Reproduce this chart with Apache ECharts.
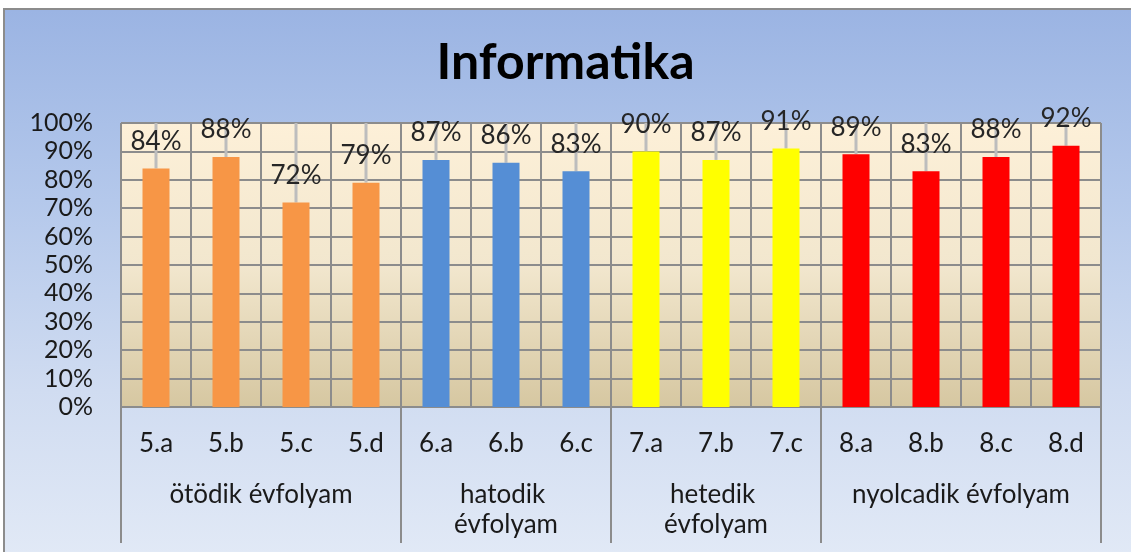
<!DOCTYPE html>
<html>
<head>
<meta charset="utf-8">
<title>Informatika</title>
<script src="https://cdn.jsdelivr.net/npm/echarts@6/dist/echarts.min.js"></script>
<style>
    html,body{margin:0;padding:0;background:#fff;overflow:hidden;}
    #frame{position:absolute;left:3px;top:8px;width:1128px;height:544px;border-left:2px solid #8c8c8c;border-top:2px solid #8c8c8c;
        background:linear-gradient(to bottom,#9bb4e3 0%,#b4c8eb 35%,#d0dcf1 70%,#e1e9f6 100%);}
    #chart{position:absolute;left:0;top:0;width:1131px;height:552px;}
</style>
</head>
<body>
<div id="frame"></div>
<div id="chart"></div>
<script>
"use strict";
/*adatok*/
let categories = ["5.a","5.b","5.c","5.d","6.a","6.b","6.c","7.a","7.b","7.c","8.a","8.b","8.c","8.d"];
let values = [0.84,0.88,0.72,0.79,0.87,0.86,0.83,0.90,0.87,0.91,0.89,0.83,0.88,0.92];
let groupNames = ["ötödik évfolyam","hatodik évfolyam","hetedik évfolyam","nyolcadik évfolyam"];
let groupStart = [0,4,7,10];
let groupEnd = [3,6,9,13];
let groupColors = ["#F79646","#558ED5","#FFFF00","#FF0000"];

let fontName = "Lato";

function groupOf(i){
    for(let g = 0; g < groupStart.length; g++){
        if(i >= groupStart[g] && i <= groupEnd[g]) return g;
    }
    return 0;
}
function pct(v){
    return Math.round(v * 100) + "%";
}

let chart = echarts.init(document.getElementById("chart"));
let option = {
    backgroundColor:"transparent",
    animation:false,
    title:{
        text:"Informatika",
        left:"center",
        top:33,
        textStyle:{
            fontFamily:fontName,
            fontSize:50,
            fontWeight:"bold",
            color:"#000"
        }
    },
    grid:{
        left:121,
        right:30,
        top:123,
        bottom:145,
        show:true,
        borderWidth:0,
        backgroundColor:new echarts.graphic.LinearGradient(0,0,0,1,[
            {offset:0,color:"#FDF0D8"},
            {offset:0.5,color:"#F2E7CE"},
            {offset:1,color:"#D6C7A1"}
        ])
    },
    xAxis:{
        type:"category",
        data:categories,
        axisLine:{
            show:true,
            lineStyle:{color:"#8c8c8c",width:2}
        },
        axisTick:{show:false},
        axisLabel:{
            interval:0,
            margin:24,
            fontFamily:fontName,
            fontSize:26,
            color:"#1a1a1a"
        },
        splitLine:{
            show:true,
            interval:0,
            lineStyle:{color:"#8c8c8c",width:2}
        }
    },
    yAxis:{
        type:"value",
        min:0,
        max:1,
        interval:0.1,
        axisLine:{show:false},
        axisTick:{show:false},
        axisLabel:{
            margin:28,
            fontFamily:fontName,
            fontSize:25,
            color:"#1a1a1a",
            formatter:pct
        },
        splitLine:{
            lineStyle:{color:"#8c8c8c",width:2}
        }
    },
    series:[
        /*drop lines above the bars*/
        {
            type:"custom",
            z:1,
            silent:true,
            data:categories.map((c,i) => [i,values[i]]),
            encode:{x:0,y:1},
            renderItem(params,api){
                let top = api.coord([api.value(0),1]);
                let bottom = api.coord([api.value(0),api.value(1)]);
                return {
                    type:"line",
                    shape:{x1:top[0],y1:top[1],x2:bottom[0],y2:bottom[1]},
                    style:{stroke:"#bdbdbd",lineWidth:3}
                };
            }
        },
        {
            type:"bar",
            z:3,
            barWidth:27,
            data:values,
            itemStyle:{
                color(params){
                    return groupColors[groupOf(params.dataIndex)];
                }
            },
            label:{
                show:true,
                position:"top",
                distance:14,
                fontFamily:fontName,
                fontSize:26,
                color:"#262626",
                formatter(params){
                    return pct(params.value);
                }
            }
        },
        /*évfolyam labels and separators*/
        {
            type:"custom",
            silent:true,
            clip:false,
            data:groupNames.map((n,g) => [groupStart[g],groupEnd[g],0]),
            encode:{x:[0,1],y:2},
            renderItem(params,api){
                let band = api.size([1,0])[0];
                let p0 = api.coord([api.value(0),0]);
                let p1 = api.coord([api.value(1),0]);
                let left = p0[0] - band / 2;
                let right = p1[0] + band / 2;
                let base = p0[1];
                return {
                    type:"group",
                    children:[
                        {type:"line",shape:{x1:left,y1:base,x2:left,y2:base + 136},style:{stroke:"#8c8c8c",lineWidth:2}},
                        {type:"line",shape:{x1:right,y1:base,x2:right,y2:base + 136},style:{stroke:"#8c8c8c",lineWidth:2}},
                        {
                            type:"text",
                            x:(left + right) / 2,
                            y:base + 73,
                            style:{
                                text:groupNames[params.dataIndex],
                                align:"center",
                                verticalAlign:"top",
                                fontFamily:fontName,
                                fontSize:26,
                                lineHeight:30,
                                fill:"#1a1a1a",
                                width:right - left - 24,
                                overflow:"break"
                            }
                        }
                    ]
                };
            }
        }
    ]
};
chart.setOption(option);
</script>
</body>
</html>
